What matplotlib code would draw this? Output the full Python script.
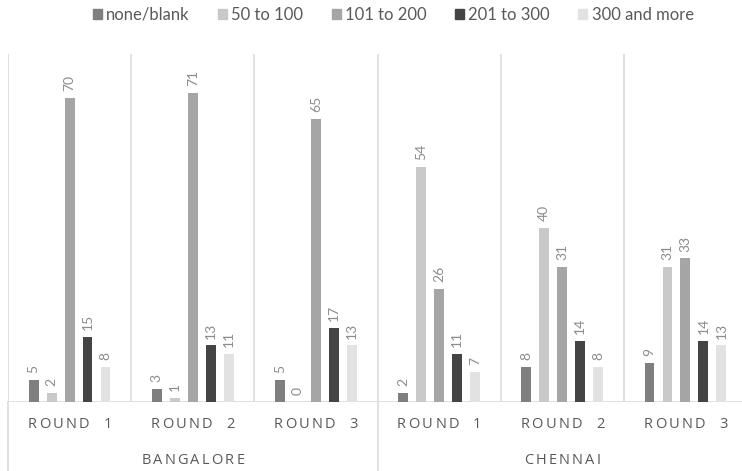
import numpy as np
import matplotlib.pyplot as plt
from matplotlib.lines import Line2D

plt.rcParams['font.family'] = ['Lato', 'DejaVu Sans']

cities = ['BANGALORE', 'CHENNAI']
rounds = ['ROUND  1', 'ROUND  2', 'ROUND  3']
series = ['none/blank', '50 to 100', '101 to 200', '201 to 300', '300 and more']
colors = ['#7f7f7f', '#c9c9c9', '#a5a5a5', '#444444', '#e2e2e2']

none_blank = [5, 3, 5, 2, 8, 9]
r50_100 = [2, 1, 0, 54, 40, 31]
r101_200 = [70, 71, 65, 26, 31, 33]
r201_300 = [15, 13, 17, 11, 14, 14]
r300_more = [8, 11, 13, 7, 8, 13]

values = [none_blank, r50_100, r101_200, r201_300, r300_more]

fig = plt.figure(figsize=(7.42, 4.71), dpi=100)
W, H = 742, 471
x0, x1, y_base, y_top = 8, 747, 402, 54
ax = fig.add_axes([x0 / W, 1 - y_base / H, (x1 - x0) / W, (y_base - y_top) / H])

n_groups = len(cities) * len(rounds)
centers = np.arange(n_groups) + 0.5
step = 0.146
width = 0.08
for i, (name, vals, c) in enumerate(zip(series, values, colors)):
    xs = centers + (i - 2) * step
    ax.bar(xs, vals, width=width, color=c, label=name, zorder=3)
    for x, v in zip(xs, vals):
        ax.annotate(str(v), (x, v), xytext=(0, 5), textcoords='offset points',
                    rotation=90, ha='center', va='bottom', fontsize=10,
                    color='#8c8c8c')

ax.set_xlim(0, n_groups)
ax.set_ylim(0, 80)
ax.axis('off')

grid = '#dedede'
# category separators inside the plot
for k in range(n_groups + 1):
    ax.axvline(k, color=grid, lw=1.3, zorder=1)
ax.axhline(0, color=grid, lw=1.3, zorder=2)


def spaced_text(xc, yc, s, track, **kw):
    # draw a label with extra letter spacing (in pixels), centred on xc
    r = fig.canvas.get_renderer()
    widths = []
    for ch in s:
        t = fig.text(0, 0, ch if ch != ' ' else 'n', **kw)
        widths.append(t.get_window_extent(r).width * (0.4 if ch == ' ' else 1))
        t.remove()
    total = sum(widths) + track * (len(s) - 1)
    x = xc - total / 2
    for ch, w in zip(s, widths):
        if ch != ' ':
            fig.text(x / W, 1 - yc / H, ch, ha='left', va='center', **kw)
        x += w + track


lab = dict(fontsize=10.5, color='#595959', family='Open Sans')
for k in range(n_groups):
    spaced_text(x0 + (k + 0.5) * 123.2, 424, rounds[k % 3], 2.3, **lab)
for j, city in enumerate(cities):
    spaced_text(x0 + (j * 3 + 1.5) * 123.2, 461, city, 2.2, **lab)
# city separators reach down through the label area
for j in range(len(cities) + 1):
    xf = (x0 + j * 3 * 123.2) / W
    fig.add_artist(Line2D([xf, xf], [0, 1 - y_base / H], color=grid, lw=1.3))

handles = [plt.Rectangle((0, 0), 1, 1, color=c) for c in colors]
fig.legend(handles, series, loc='center', bbox_to_anchor=(0.53, 1 - 15 / H),
           ncol=5, frameon=False, fontsize=12, handlelength=0.55,
           handleheight=0.55, handletextpad=0.25, columnspacing=1.7,
           labelcolor='#595959')

fig.savefig('out.png', dpi=100)
